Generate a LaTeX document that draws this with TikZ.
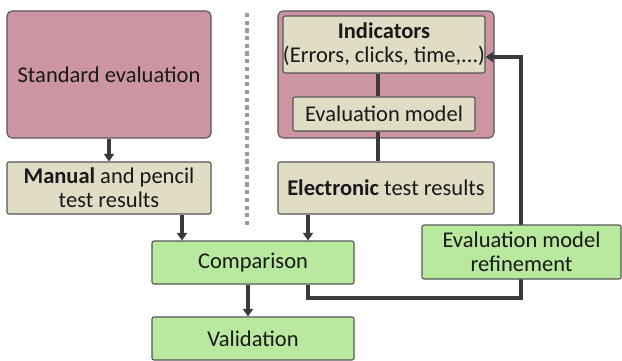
\documentclass[tikz,border=0pt]{standalone}
\usepackage{fontspec}
\setmainfont{Carlito}
\usetikzlibrary{arrows.meta,calc}
\definecolor{pinkf}{HTML}{CD95A2}
\definecolor{beigef}{HTML}{E1DCC4}
\definecolor{greenf}{HTML}{B9E89F}
\definecolor{edgec}{HTML}{555555}
\definecolor{linec}{HTML}{3A3A3A}
\tikzset{
  base/.style={draw=edgec, line width=1.1pt, inner sep=0pt, align=center,
    font=\fontsize{22.5}{24}\selectfont, text=black!90},
  pinkbox/.style={base, fill=pinkf, rounded corners=5pt},
  beigebox/.style={base, fill=beigef, rounded corners=2pt},
  greenbox/.style={base, fill=greenf, rounded corners=2pt},
  conn/.style={draw=linec, line width=3.2pt},
  arr/.style={conn, -{Triangle[length=7.5pt,width=10pt]}},
}
\begin{document}
\begin{tikzpicture}[x=1pt,y=-1pt]
\useasboundingbox (0,0) rectangle (622,361);
% dotted separator
\draw[color=gray!80, line width=4.2pt, dash pattern=on 4.2pt off 3.5pt] (247,13) -- (247,228);
% left column
\node[pinkbox, minimum width=204pt, minimum height=127pt] (std) at (109,74.5) {Standard evaluation};
\node[beigebox, minimum width=204pt, minimum height=52pt] (man) at (109,188) {\textbf{Manual} and pencil\\test results};
% right column
\node[pinkbox, minimum width=216pt, minimum height=127pt] (grp) at (386,74.5) {};
\node[beigebox, minimum width=182pt, minimum height=57pt] (ind) at (384,44.5) {\textbf{Indicators}\\(Errors, clicks, time,...)};
\node[beigebox, minimum width=182pt, minimum height=34pt] (evm) at (384,114) {Evaluation model};
\node[beigebox, minimum width=216pt, minimum height=52pt] (ele) at (386,188) {\textbf{Electronic} test results};
% bottom
\node[greenbox, minimum width=202pt, minimum height=43pt] (cmp) at (253,262.5) {Comparison};
\node[greenbox, minimum width=202pt, minimum height=43pt] (val) at (253,338.5) {Validation};
% coordinates for connector x positions
\coordinate (lx) at (378,0);
\coordinate (mx) at (182,0);
\coordinate (ex) at (308,0);
\coordinate (vx) at (248,0);
\coordinate (fb1) at (308,298);
\coordinate (fb2) at (521,298);
\coordinate (fb3) at (521,57);
% connectors
\draw[conn] (ind.south -| lx) -- (evm.north -| lx);
\draw[conn] (evm.south -| lx) -- (grp.south -| lx);
\draw[conn] (grp.south -| lx) -- (ele.north -| lx);
\draw[arr] (std.south) -- (man.north);
\draw[arr] (man.south -| mx) -- (cmp.north -| mx);
\draw[arr] (ele.south -| ex) -- (cmp.north -| ex);
\draw[arr] (cmp.south -| vx) -- (val.north -| vx);
\draw[arr, line join=miter] (cmp.south -| ex) -- (fb1) -- (fb2) -- (fb3) -- (ind.east |- fb3);
% refinement box on top of the feedback line
\node[greenbox, minimum width=199pt, minimum height=54pt] (ref) at (521.5,252) {Evaluation model\\refinement};
\end{tikzpicture}
\end{document}
